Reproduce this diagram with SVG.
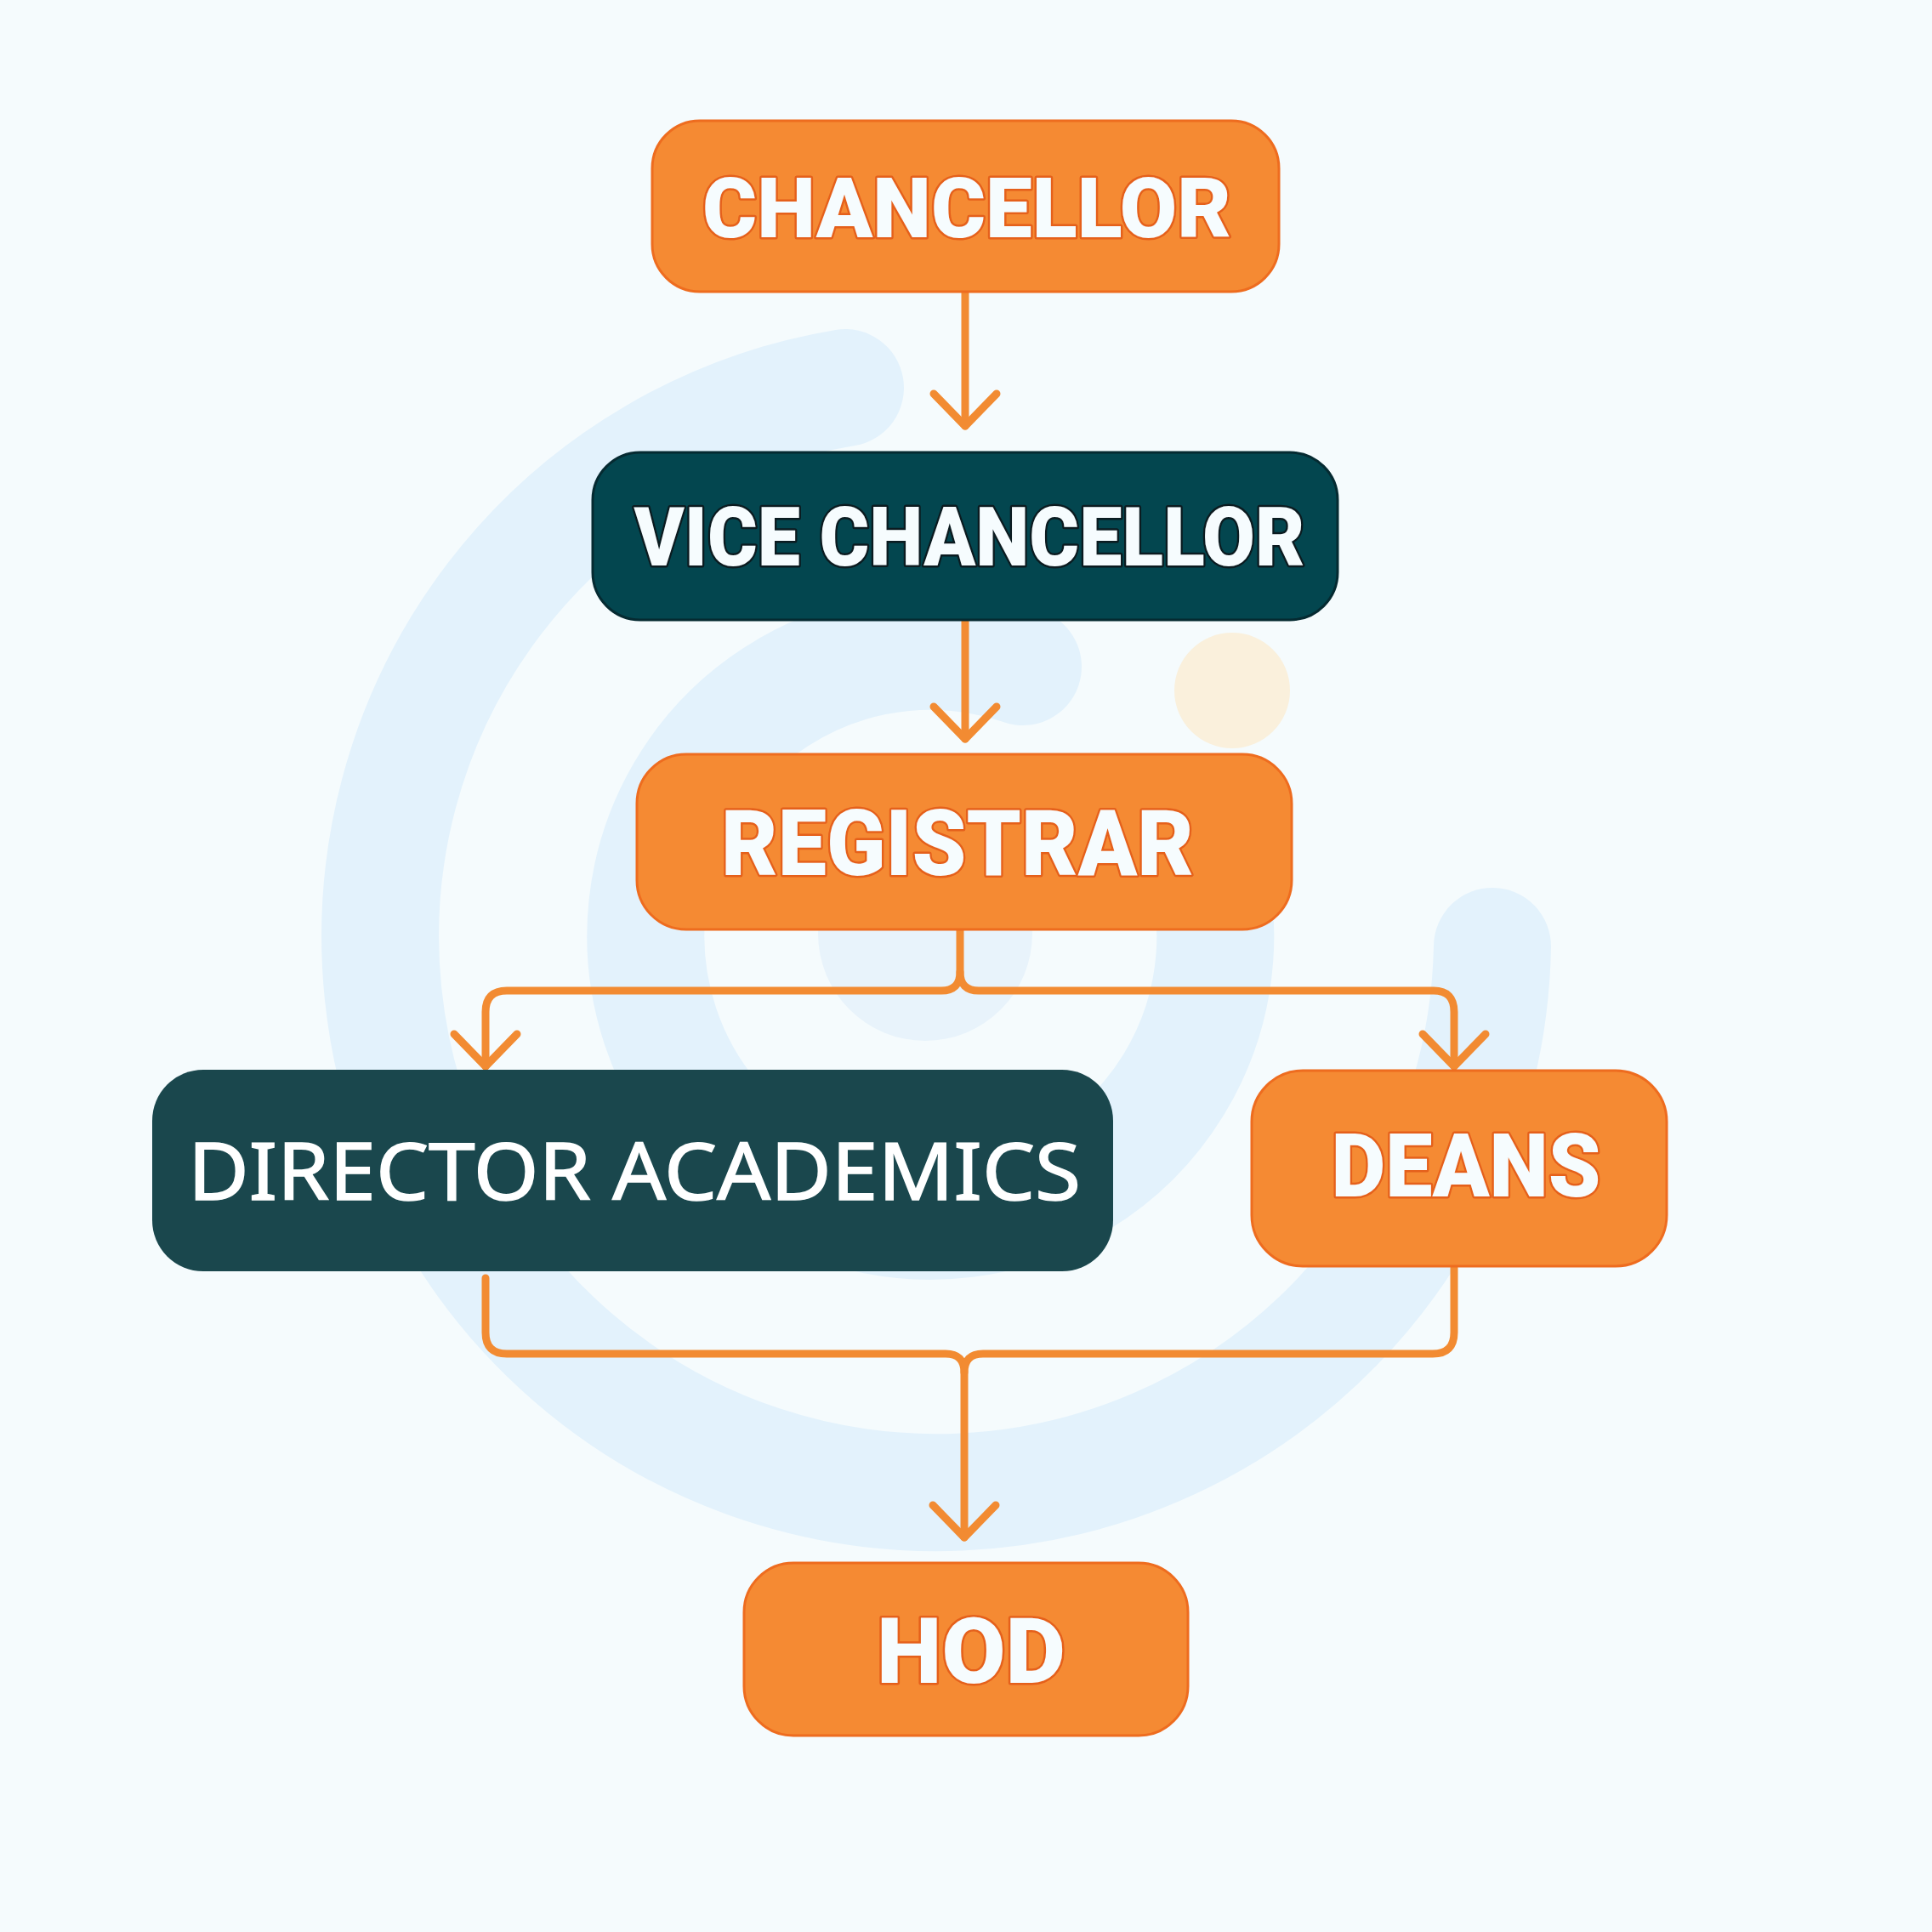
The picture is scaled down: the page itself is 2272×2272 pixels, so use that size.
<svg xmlns="http://www.w3.org/2000/svg" width="2272" height="2272" viewBox="0 0 2272 2272">
  <style>
    .bgring { fill: none; stroke: #E3F2FC; stroke-width: 138; stroke-linecap: round; }
    .orange { fill: #F58A33; stroke: #EE6C1F; stroke-width: 3; }
    .vc { fill: #03464F; stroke: #052A31; stroke-width: 3; }
    .dir { fill: #1A474D; }
    .lbl { font-family: Roboto, "Liberation Sans", sans-serif; font-weight: 900; text-anchor: middle; fill: #F6FCFE; paint-order: stroke; stroke-linejoin: round; }
    .lo { stroke: #E5601B; stroke-width: 5; }
    .ld { stroke: #0B1B20; stroke-width: 5; }
    .lr { font-family: "Noto Sans", "Liberation Sans", sans-serif; font-weight: 400; text-anchor: middle; fill: #FFFFFF; stroke: #FFFFFF; stroke-width: 1.5; }
    .conn { fill: none; stroke: #F28B32; stroke-width: 9; stroke-linecap: round; stroke-linejoin: round; }
  </style>
  <defs>
    <marker id="chev" markerUnits="userSpaceOnUse" viewBox="-50 -50 60 100" markerWidth="60" markerHeight="100" refX="0" refY="0" orient="auto" overflow="visible">
      <path d="M-38,-37 L0,0 L-38,37" fill="none" stroke="#F28B32" stroke-width="9" stroke-linecap="round" stroke-linejoin="round"/>
    </marker>
  </defs>

  <rect width="2272" height="2272" fill="#F5FBFD"/>

  <g id="background">
    <path class="bgring" d="M1755,1113 A654,654 0 1 1 994,456"/>
    <path class="bgring" stroke-width="136" d="M1203,784 A335,335 0 1 0 1409,986"/>
    <circle cx="1088" cy="1098" r="126" fill="#E8F3FB"/>
    <circle cx="1449" cy="812" r="68" fill="#FAF0DC"/>
  </g>

  <g id="connectors">
    <path class="conn" d="M1135,343 L1135,501" marker-end="url(#chev)"/>
    <path class="conn" d="M1135,729 L1135,869" marker-end="url(#chev)"/>
    <path class="conn" d="M1129,1093 L1129,1143 Q1129,1165 1107,1165 L596,1165 Q571,1165 571,1190 L571,1254" marker-end="url(#chev)"/>
    <path class="conn" d="M1129,1143 Q1129,1165 1151,1165 L1686,1165 Q1710,1165 1710,1190 L1710,1254" marker-end="url(#chev)"/>
    <path class="conn" d="M571,1503 L571,1567 Q571,1592 596,1592 L1112,1592 Q1134,1592 1134,1614 L1134,1808" marker-end="url(#chev)"/>
    <path class="conn" d="M1710,1491 L1710,1567 Q1710,1592 1685,1592 L1156,1592 Q1134,1592 1134,1614"/>
  </g>

  <g id="node-chancellor">
    <rect class="orange" x="767" y="142" width="737" height="201" rx="56"/>
    <text class="lbl lo" x="1137" y="279" font-size="99" textLength="622" lengthAdjust="spacingAndGlyphs">CHANCELLOR</text>
  </g>

  <g id="node-vice-chancellor">
    <rect class="vc" x="697" y="532" width="876" height="197" rx="56"/>
    <text class="lbl ld" x="1140" y="665" font-size="96" textLength="789" lengthAdjust="spacingAndGlyphs">VICE CHANCELLOR</text>
  </g>

  <g id="node-registrar">
    <rect class="orange" x="749" y="887" width="770" height="206" rx="58"/>
    <text class="lbl lo" x="1126" y="1029" font-size="108" textLength="556" lengthAdjust="spacingAndGlyphs">REGISTRAR</text>
  </g>

  <g id="node-director-academics">
    <rect class="dir" x="179" y="1258" width="1130" height="237" rx="60"/>
    <text class="lr" x="746" y="1411" font-size="94" textLength="1050" lengthAdjust="spacingAndGlyphs">DIRECTOR ACADEMICS</text>
  </g>

  <g id="node-deans">
    <rect class="orange" x="1472" y="1259" width="488" height="230" rx="60"/>
    <text class="lbl lo" x="1724" y="1407" font-size="104" textLength="317" lengthAdjust="spacingAndGlyphs">DEANS</text>
  </g>

  <g id="node-hod">
    <rect class="orange" x="875" y="1838" width="522" height="203" rx="58"/>
    <text class="lbl lo" x="1142" y="1979" font-size="107" textLength="222" lengthAdjust="spacingAndGlyphs">HOD</text>
  </g>
</svg>
